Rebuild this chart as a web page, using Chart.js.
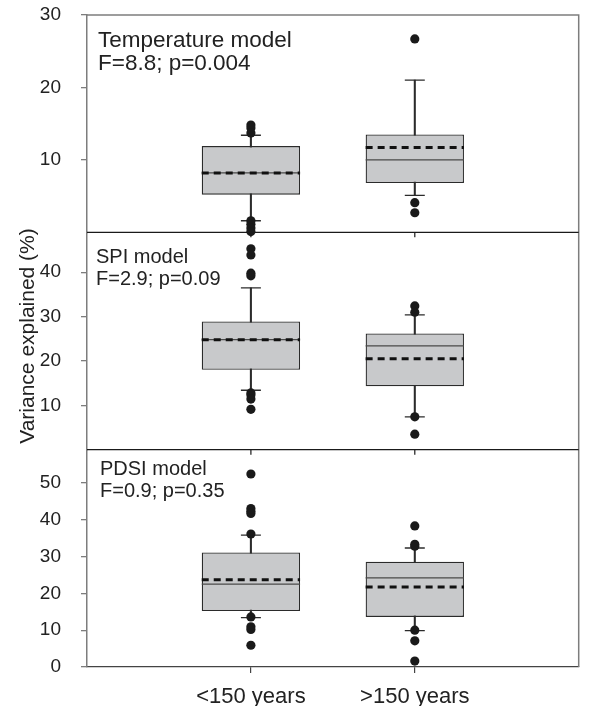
<!DOCTYPE html>
<html>
<head>
<meta charset="utf-8">
<script src="https://cdn.jsdelivr.net/npm/chart.js@4/dist/chart.umd.min.js"></script>
<style>
  html, body { margin: 0; padding: 0; background: #fff; }
</style>
</head>
<body>
<canvas id="chart" width="590" height="706"></canvas>
<script>
const categories = ['<150 years', '>150 years'];
const panelNames = ['Temperature model', 'SPI model', 'PDSI model'];
const panelStats = ['F=8.8; p=0.004', 'F=2.9; p=0.09', 'F=0.9; p=0.35'];
const yTitle = 'Variance explained (%)';

// temperature model
const tempTicks = [10, 20, 30];
const tempQ1 = [5.2, 6.8];
const tempQ3 = [11.9, 13.5];
const tempMedian = [8.2, 10.0];
const tempMean = [8.2, 11.7];
const tempLow = [1.6, 5.1];
const tempHigh = [13.4, 21.0];
const tempOutliers = [[14.8, 14.4, 13.7, 1.6, 1.1, 0.6, 0.1], [26.7, 4.1, 2.7]];

// SPI model
const spiTicks = [10, 20, 30, 40];
const spiQ1 = [18.0, 14.3];
const spiQ3 = [28.9, 26.2];
const spiMedian = [24.8, 23.4];
const spiMean = [24.8, 20.5];
const spiLow = [13.4, 7.4];
const spiHigh = [36.5, 30.4];
const spiOutliers = [[45.3, 43.9, 39.8, 39.2, 12.8, 12.3, 11.4, 9.1], [32.4, 31.0, 7.4, 3.5]];

// PDSI model
const pdsiTicks = [0, 10, 20, 30, 40, 50];
const pdsiQ1 = [15.2, 13.6];
const pdsiQ3 = [31.1, 28.6];
const pdsiMedian = [22.5, 24.2];
const pdsiMean = [23.7, 21.7];
const pdsiLow = [13.4, 9.9];
const pdsiHigh = [35.8, 32.3];
const pdsiOutliers = [[52.4, 43.0, 42.3, 41.7, 36.1, 13.6, 10.9, 10.2, 5.9], [38.3, 33.3, 32.8, 10.0, 7.1, 1.6]];

const FONT = 'Liberation Sans, Arial, sans-serif';
const INK = '#2b2b2b';
const AXIS_GRAY = '#7d7d7d';
const BOX_FILL = '#c8c9cb';
const BOX_PCT = 0.6;
const HALF = BOX_PCT / 2;

function boxDatasets(axis, q1, q3, median, mean, low, high, outliers) {
  const xs = categories.map((_, i) => i + 1);
  const seg = (vals) => vals.flatMap((v, i) => [
    { x: xs[i] - HALF, y: v }, { x: xs[i] + HALF, y: v }, { x: xs[i] + 0.5, y: null },
  ]);
  return [
    { type: 'bar', yAxisID: axis, order: 6, grouped: false, barThickness: 1.4,
      data: xs.map((x, i) => ({ x, y: [low[i], high[i]] })), backgroundColor: INK, borderWidth: 0 },
    { type: 'bar', yAxisID: axis, order: 5, grouped: false, barPercentage: BOX_PCT, categoryPercentage: 1,
      data: xs.map((x, i) => ({ x, y: [q1[i], q3[i]] })),
      backgroundColor: BOX_FILL, borderColor: INK, borderWidth: 1.3, borderSkipped: false },
    { type: 'line', yAxisID: axis, order: 4, data: seg(median), borderColor: '#4a4a4a', borderWidth: 1.3,
      pointRadius: 0, spanGaps: false },
    { type: 'line', yAxisID: axis, order: 3, data: seg(mean), borderColor: '#111', borderWidth: 3,
      borderDash: [7, 5], pointRadius: 0, spanGaps: false },
    { type: 'scatter', yAxisID: axis, order: 2,
      data: xs.flatMap((x, i) => [{ x, y: low[i] }, { x, y: high[i] }]),
      pointStyle: 'line', pointRadius: 10, borderColor: INK, borderWidth: 1.3 },
    { type: 'scatter', yAxisID: axis, order: 1, clip: false,
      data: outliers.flatMap((vals, i) => vals.map((v) => ({ x: xs[i], y: v }))),
      pointRadius: 4.6, backgroundColor: '#1a1a1a', borderWidth: 0 },
  ];
}

const yAxis = (ticks, max) => ({
  type: 'linear', position: 'left', stack: 'panels', stackWeight: 1, min: 0, max,
  afterBuildTicks: (s) => { s.ticks = ticks.map((v) => ({ value: v })); },
  afterFit: (s) => { s.width = 87; s.paddingTop = 0; s.paddingBottom = 0; },
  grid: { drawOnChartArea: false, tickLength: 6, color: AXIS_GRAY, lineWidth: 1.3 },
  border: { color: AXIS_GRAY, width: 1.5 },
  ticks: { padding: 20, autoSkip: false, color: '#222', font: { family: FONT, size: 19 } },
});

const panelFrame = {
  id: 'panelFrame',
  beforeDatasetsDraw(chart) {
    const { ctx, chartArea, scales } = chart;
    const panels = [scales.yTemp, scales.ySPI, scales.yPDSI];
    ctx.save();
    ctx.strokeStyle = AXIS_GRAY;
    ctx.lineWidth = 1.5;
    ctx.beginPath();
    ctx.moveTo(chartArea.left, chartArea.top);
    ctx.lineTo(chartArea.right, chartArea.top);
    ctx.lineTo(chartArea.right, chartArea.bottom);
    ctx.stroke();
    ctx.strokeStyle = '#1a1a1a';
    ctx.lineWidth = 1.2;
    panels.slice(0, 2).forEach((s) => {
      ctx.beginPath();
      ctx.moveTo(chartArea.left, s.bottom);
      ctx.lineTo(chartArea.right, s.bottom);
      categories.forEach((_, i) => {
        const px = scales.x.getPixelForValue(i + 1);
        ctx.moveTo(px, s.bottom);
        ctx.lineTo(px, s.bottom + 5);
      });
      ctx.stroke();
    });
    ctx.restore();
  },
  afterDraw(chart) {
    const { ctx, chartArea, scales } = chart;
    const panels = [scales.yTemp, scales.ySPI, scales.yPDSI];
    const sizes = [22.5, 20, 20];
    const indents = [11, 9, 13];
    const lines = [[32, 55], [31, 53], [25, 47]];
    ctx.save();
    ctx.fillStyle = '#222';
    ctx.textBaseline = 'alphabetic';
    panels.forEach((s, i) => {
      ctx.font = `${sizes[i]}px ${FONT}`;
      ctx.fillText(panelNames[i], chartArea.left + indents[i], s.top + lines[i][0]);
      ctx.fillText(panelStats[i], chartArea.left + indents[i], s.top + lines[i][1]);
    });
    // shared y-axis title, centred on the stacked panels
    ctx.font = `21px ${FONT}`;
    ctx.textAlign = 'center';
    ctx.textBaseline = 'middle';
    ctx.translate(28, (scales.ySPI.top + scales.ySPI.bottom) / 2 - 5);
    ctx.rotate(-Math.PI / 2);
    ctx.fillText(yTitle, 0, 0);
    ctx.restore();
  },
};

new Chart(document.getElementById('chart'), {
  type: 'bar',
  data: {
    datasets: [
      ...boxDatasets('yTemp', tempQ1, tempQ3, tempMedian, tempMean, tempLow, tempHigh, tempOutliers),
      ...boxDatasets('ySPI', spiQ1, spiQ3, spiMedian, spiMean, spiLow, spiHigh, spiOutliers),
      ...boxDatasets('yPDSI', pdsiQ1, pdsiQ3, pdsiMedian, pdsiMean, pdsiLow, pdsiHigh, pdsiOutliers),
    ],
  },
  options: {
    responsive: false,
    animation: false,
    layout: { padding: { top: 15, right: 9, left: 0, bottom: 0 } },
    plugins: { legend: { display: false }, tooltip: { enabled: false } },
    scales: {
      x: {
        type: 'linear', position: 'bottom', min: 0, max: 3, offset: false,
        afterBuildTicks: (s) => { s.ticks = categories.map((_, i) => ({ value: i + 1 })); },
        afterFit: (s) => { s.height = 39; },
        grid: { drawOnChartArea: false, offset: false, tickLength: 6, color: '#444', lineWidth: 1.2 },
        border: { color: '#444', width: 1.3 },
        ticks: { padding: 11, color: '#222', font: { family: FONT, size: 22 },
          callback: (v, i) => categories[i] },
      },
      yPDSI: yAxis(pdsiTicks, 59),
      ySPI: yAxis(spiTicks, 49),
      yTemp: yAxis(tempTicks, 30),
    },
  },
  plugins: [panelFrame],
});
</script>
</body>
</html>
